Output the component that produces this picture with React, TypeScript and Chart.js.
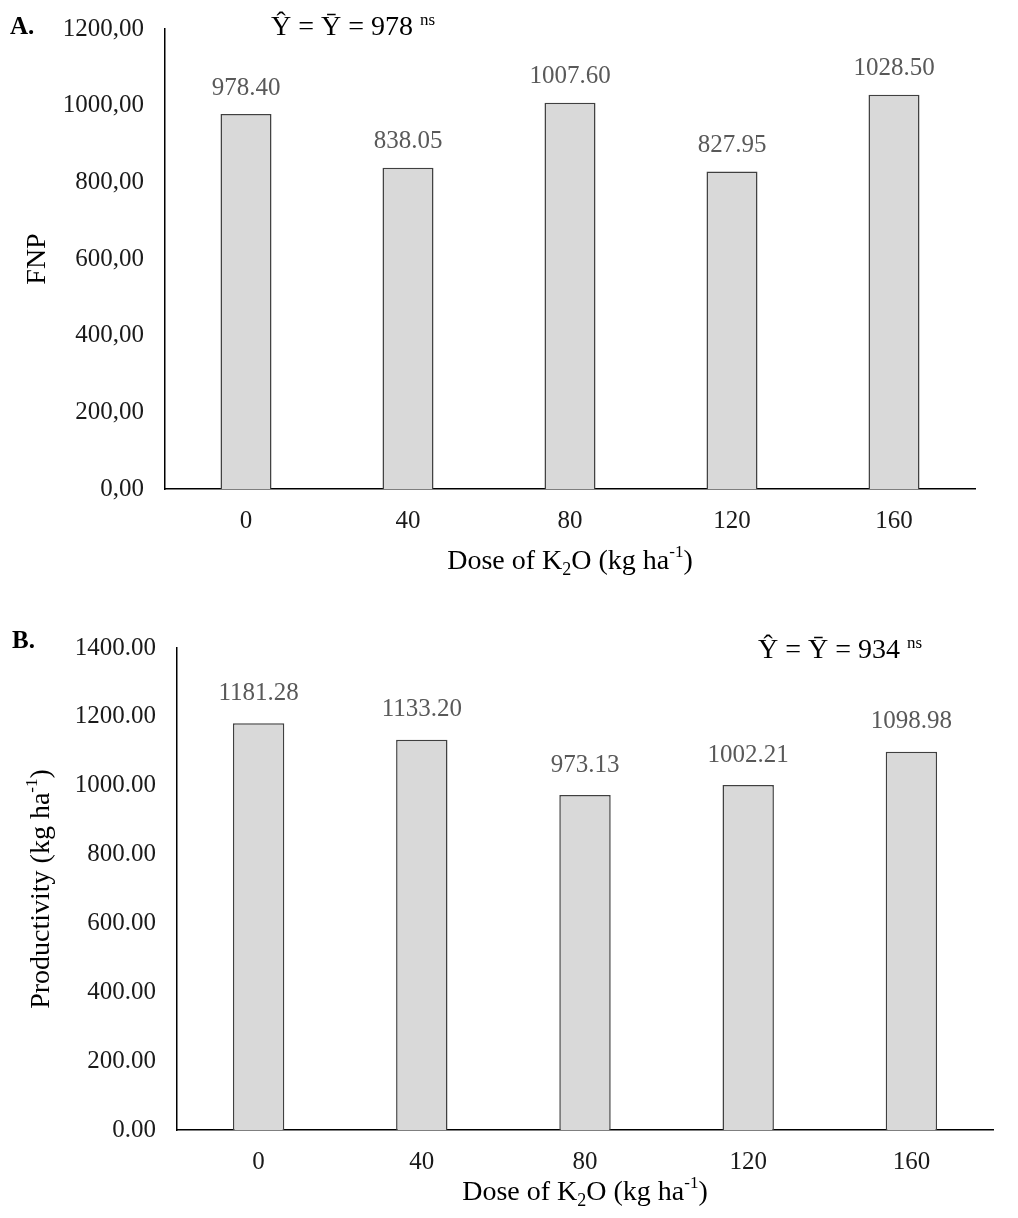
import React, { useEffect, useRef } from 'react';
import { Chart, registerables } from 'chart.js';

Chart.register(...registerables);

// ---------- data ----------
const doses = ['0', '40', '80', '120', '160'];
const fnpValues = [978.4, 838.05, 1007.6, 827.95, 1028.5];
const productivityValues = [1181.28, 1133.2, 973.13, 1002.21, 1098.98];
const fnpMean = '978';
const productivityMean = '934';
const fnpAxisMax = 1200;
const productivityAxisMax = 1400;
const axisStep = 200;

const FONT = "'Liberation Serif', 'Times New Roman', serif";

type Seg = { t: string; s: number; dy?: number };

function drawRich(ctx: CanvasRenderingContext2D, x: number, y: number, segs: Seg[], align: 'left' | 'center') {
  ctx.textAlign = 'left';
  ctx.textBaseline = 'alphabetic';
  let total = 0;
  const widths = segs.map((g) => {
    ctx.font = `${g.s}px ${FONT}`;
    const w = ctx.measureText(g.t).width;
    total += w;
    return w;
  });
  let cx = align === 'center' ? x - total / 2 : x;
  segs.forEach((g, i) => {
    ctx.font = `${g.s}px ${FONT}`;
    ctx.fillText(g.t, cx, y + (g.dy || 0));
    cx += widths[i];
  });
}

const annotPlugin = {
  id: 'annot',
  afterDraw(chart: any, _args: any, opts: any) {
    const ctx: CanvasRenderingContext2D = chart.ctx;
    const area = chart.chartArea;
    ctx.save();
    // data labels
    const meta = chart.getDatasetMeta(0);
    ctx.font = `25px ${FONT}`;
    ctx.fillStyle = '#595959';
    ctx.textAlign = 'center';
    ctx.textBaseline = 'middle';
    meta.data.forEach((el: any, i: number) => {
      const v = chart.data.datasets[0].data[i] as number;
      ctx.fillText(v.toFixed(2), el.x, el.y - opts.labelOffset);
    });
    // panel letter
    ctx.fillStyle = '#000';
    ctx.font = `bold 25px ${FONT}`;
    ctx.textAlign = 'left';
    ctx.textBaseline = 'alphabetic';
    ctx.fillText(opts.letter, opts.letterX, opts.letterY);
    // equation
    drawRich(ctx, opts.eqX, opts.eqY, [
      { t: `\u0176 = \u0232 = ${opts.mean} `, s: 28 },
      { t: 'ns', s: 17, dy: -10 },
    ], 'left');
    // x title
    drawRich(ctx, (area.left + area.right) / 2, opts.xTitleY, [
      { t: 'Dose of K', s: 28 },
      { t: '2', s: 18, dy: 6 },
      { t: 'O (kg ha', s: 28 },
      { t: '-1', s: 17, dy: -12 },
      { t: ')', s: 28 },
    ], 'center');
    // y title
    ctx.translate(opts.yTitleX, (area.top + area.bottom) / 2);
    ctx.rotate(-Math.PI / 2);
    drawRich(ctx, 0, 9, opts.yTitle, 'center');
    ctx.restore();
  },
};

type PanelProps = {
  top: number;
  height: number;
  values: number[];
  max: number;
  padTop: number;
  padRight: number;
  yWidth: number;
  xHeight: number;
  comma: boolean;
  annot: any;
};

function Panel(p: PanelProps) {
  const ref = useRef<HTMLCanvasElement>(null);
  useEffect(() => {
    if (!ref.current) return;
    const chart = new Chart(ref.current, {
      type: 'bar',
      data: {
        labels: doses,
        datasets: [
          {
            data: p.values,
            backgroundColor: '#d9d9d9',
            borderColor: '#404040',
            borderWidth: 1.5,
            categoryPercentage: 1,
            barPercentage: 0.315,
          },
        ],
      },
      options: {
        responsive: false,
        animation: false,
        layout: { padding: { top: p.padTop, right: p.padRight, left: 0, bottom: 0 } },
        plugins: {
          legend: { display: false },
          tooltip: { enabled: false },
          annot: p.annot,
        } as any,
        scales: {
          x: {
            grid: { display: false, drawTicks: false },
            border: { display: true, color: '#000', width: 1.5 },
            ticks: { color: '#1a1a1a', font: { family: FONT, size: 25 }, padding: 17 },
            afterFit: (s: any) => { s.height = p.xHeight; },
          },
          y: {
            min: 0,
            max: p.max,
            grid: { display: false, drawTicks: false },
            border: { display: true, color: '#000', width: 1.5 },
            ticks: {
              stepSize: axisStep,
              color: '#1a1a1a',
              font: { family: FONT, size: 25 },
              padding: 21,
              callback: (v: any) => {
                const s = Number(v).toFixed(2);
                return p.comma ? s.replace('.', ',') : s;
              },
            },
            afterFit: (s: any) => { s.width = p.yWidth; },
          },
        },
      },
      plugins: [annotPlugin],
    });
    return () => chart.destroy();
  }, []);
  return (
    <canvas
      ref={ref}
      width={1018}
      height={p.height}
      style={{ position: 'absolute', left: 0, top: p.top, display: 'block' }}
    />
  );
}

export default function App() {
  return (
    <div style={{ position: 'absolute', left: 0, top: 0, width: 1018, height: 1218, background: '#fff', overflow: 'hidden' }}>
      <Panel
        top={-7}
        height={597}
        values={fnpValues}
        max={fnpAxisMax}
        padTop={21}
        padRight={43}
        yWidth={165}
        xHeight={101}
        comma={true}
        annot={{
          labelOffset: 26,
          letter: 'A.',
          letterX: 10,
          letterY: 41,
          mean: fnpMean,
          eqX: 271,
          eqY: 42,
          xTitleY: 576,
          yTitleX: 36,
          yTitle: [{ t: 'FNP', s: 28 }],
        }}
      />
      <Panel
        top={590}
        height={628}
        values={productivityValues}
        max={productivityAxisMax}
        padTop={58}
        padRight={25}
        yWidth={177}
        xHeight={88}
        comma={false}
        annot={{
          labelOffset: 30,
          letter: 'B.',
          letterX: 12,
          letterY: 58,
          mean: productivityMean,
          eqX: 758,
          eqY: 68,
          xTitleY: 610,
          yTitleX: 40,
          yTitle: [
            { t: 'Productivity (kg ha', s: 28 },
            { t: '-1', s: 17, dy: -12 },
            { t: ')', s: 28 },
          ],
        }}
      />
    </div>
  );
}
